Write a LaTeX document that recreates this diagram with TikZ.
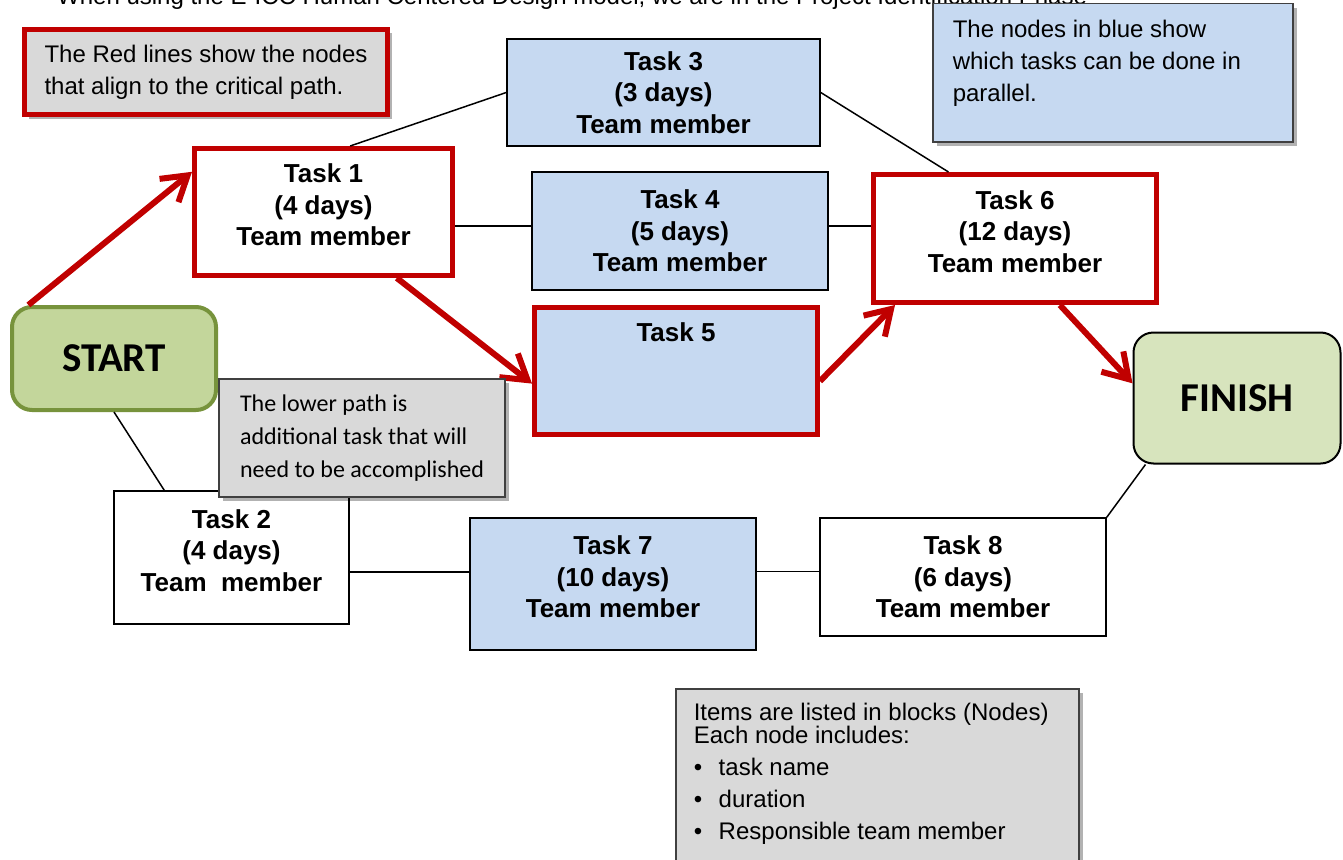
\documentclass[tikz,border=0pt]{standalone}
\usepackage{fontspec}
\setmainfont{Liberation Sans}
\newfontfamily\calibri{Carlito}
\usetikzlibrary{arrows.meta, shadows}

\definecolor{taskblue}{HTML}{C6D9F1}
\definecolor{notegray}{HTML}{D9D9D9}
\definecolor{critred}{HTML}{C00000}
\definecolor{startgreen}{HTML}{C3D69B}
\definecolor{startedge}{HTML}{77933C}
\definecolor{finishgreen}{HTML}{D7E4BD}

\def \thinline {1.5pt}
\def \thickline {5pt}
\newcommand{\taskfont}{\fontsize{26}{31.5}\selectfont\bfseries}
\newcommand{\notefont}{\fontsize{24}{32}\selectfont}
\newcommand{\calfont}{\calibri\fontsize{24}{33}\selectfont}

\tikzstyle{task}=[draw, line width=\thinline, fill=white, align=center, font=\taskfont, inner sep=0pt]
\tikzstyle{parallel}=[task, fill=taskblue]
\tikzstyle{lifted}=[execute at end node={\rule[-14pt]{0pt}{14pt}}]
\tikzstyle{critbox}=[draw=critred, line width=\thickline]
\tikzstyle{endpoint}=[rounded corners=20pt, inner sep=0pt, font=\calibri\fontsize{41}{41}\selectfont\bfseries]
\tikzstyle{note}=[fill=notegray, draw=black!75, line width=\thinline, inner sep=0pt,
    drop shadow={shadow xshift=4pt, shadow yshift=-4pt, fill=black, opacity=0.3}]
\tikzstyle{critline}=[draw=critred, line width=6pt, -{Straight Barb[length=24pt, width=30pt]}]
\tikzstyle{link}=[draw, line width=\thinline]

\begin{document}
\begin{tikzpicture}[x=1pt, y=-1pt]
\useasboundingbox (0,0) rectangle (1343,859);

% heading line, cut by the page edge
\node[anchor=base west, font=\notefont, inner sep=0pt] (heading) at (57,5)
    {When using the E-ICC Human Centered Design model, we are in the Project Identification Phase};

% tasks
\node[parallel, minimum width=313pt, minimum height=107pt] (task3) at (663.5,92.5) {Task 3\\(3 days)\\Team member};
\node[task, critbox, lifted, minimum width=258pt, minimum height=127pt] (task1) at (323.5,212) {Task 1\\(4 days)\\Team member};
\node[parallel, minimum width=296pt, minimum height=118pt] (task4) at (680,231) {Task 4\\(5 days)\\Team member};
\node[task, critbox, lifted, minimum width=283pt, minimum height=128pt] (task6) at (1015,238.5) {Task 6\\(12 days)\\Team member};
\node[parallel, critbox, lifted, minimum width=283pt, minimum height=127pt] (task5) at (676,371) {Task 5\\~\\~};
\node[task, lifted, minimum width=235pt, minimum height=133pt] (task2) at (231.5,557.5) {Task 2\\(4 days)\\Team\ \ member};
\node[parallel, lifted, minimum width=286pt, minimum height=132pt] (task7) at (613,584) {Task 7\\(10 days)\\Team member};
\node[task, minimum width=286pt, minimum height=118pt] (task8) at (963,577) {Task 8\\(6 days)\\Team member};

% start and finish
\node[endpoint, fill=startgreen, draw=startedge, line width=4pt, minimum width=204pt, minimum height=103pt] (start) at (114,358.5) {START};
\node[endpoint, fill=finishgreen, draw=black, line width=2pt, minimum width=207pt, minimum height=131pt] (finish) at (1237,398) {FINISH};

% critical path
\foreach \a/\b in {start.148/task1.163, task1.-42/task5.185, task5.-4/task6.209, task6.-56/finish.172}
    \draw[critline] (\a) -- (\b);

% other links
\draw[link] (task1.68) -- (task3.west);
\draw[link] (task3.east) -- (task6.135);
\draw[link] (task1.-6) -- (task1.-6 -| task4.west);
\draw[link] (task6.175) -- (task6.175 -| task4.east);
\draw[link] (start.south) -- (task2.135);
\draw[link] (task2.-7) -- (task2.-7 -| task7.west);
\draw[link] (task7.5) -- (task7.5 -| task8.west);
\draw[link] (task8.north east) -- (finish.216);

% notes
\node[note, draw=critred, line width=\thickline, minimum width=363pt, minimum height=85pt, align=left, font=\notefont] (rednote) at (206,72)
    {The Red lines show the nodes\\that align to the critical path.};
\node[note, fill=taskblue, anchor=north west, inner xsep=20pt, inner ysep=16pt, font=\notefont] (bluenote) at (932,3)
    {\parbox[c][106pt][t]{320pt}{The nodes in blue show\\which tasks can be done in\\parallel.}};
\node[note, minimum width=286pt, minimum height=118pt, align=left, font=\calfont] (lowernote) at (362,438)
    {The lower path is\\additional task that will\\need to be accomplished};
\node[note, anchor=north west, inner xsep=18pt, inner ysep=14pt, font=\fontsize{24}{23}\selectfont] (itemnote) at (675,688)
    {\parbox[c][180pt][t]{367pt}{Items are listed in blocks (Nodes)\\Each node includes:\\[9pt]
    \makebox[25pt][l]{\textbullet}task name\\[9pt]
    \makebox[25pt][l]{\textbullet}duration\\[9pt]
    \makebox[25pt][l]{\textbullet}Responsible team member}};

\end{tikzpicture}
\end{document}
